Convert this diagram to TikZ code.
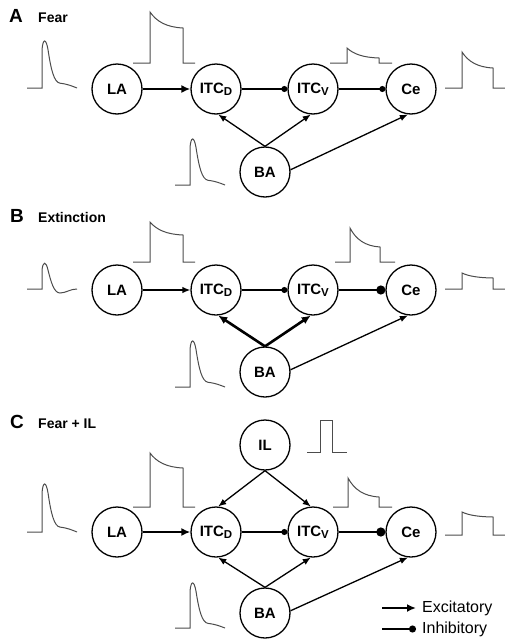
\documentclass[tikz,border=0pt]{standalone}
\usepackage{fontspec}
\setmainfont{Liberation Sans}
\usetikzlibrary{arrows.meta}
\newcommand\sbs[1]{\raisebox{-0.12em}{\fontsize{11.5}{11.5}\selectfont #1}}
\tikzset{
  nd/.style={circle,draw,line width=1.3pt,minimum size=50pt,inner sep=0pt,font=\bfseries\fontsize{15}{15}\selectfont},
  trace/.style={draw=black!70,line width=1pt,line join=miter},
  exc/.style={line width=1.3pt,-{Latex[length=8pt,width=6.5pt]}},
  excb/.style={line width=2.6pt,-{Latex[length=9pt,width=8pt]}},
  inh/.style={line width=1.3pt,-{Circle[length=6pt,width=6pt]}},
  inhb/.style={line width=2.8pt,-{Circle[length=9pt,width=9pt]}},
  lexcs/.style={line width=2pt,-{Latex[length=9pt,width=8pt]}},
  linhs/.style={line width=2pt,-{Circle[length=7pt,width=7pt]}},
  panel/.style={anchor=base west,inner sep=0pt,font=\bfseries\fontsize{19}{19}\selectfont},
  ptitle/.style={anchor=base west,inner sep=0pt,font=\bfseries\fontsize{14}{14}\selectfont},
  legend/.style={anchor=west,inner sep=0pt,font=\fontsize{16}{16}\selectfont}
}
% spike trace: x0, baseline, height
\newcommand\spiketrace[3]{%
  \begin{scope}[shift={(#1,#2)},yscale=#3]
  \draw[trace] (0,0) -- (15,0) -- (15,-0.8) .. controls (16,-1.04) and (19,-1.04) .. (21,-0.8)
    .. controls (24,-0.38) and (27,-0.12) .. (33,-0.1) .. controls (41,-0.08) and (45,-0.04) .. (50,0);
  \end{scope}}
% step trace: x0, xs, xe, x1, baseline, top, level
\newcommand\steptrace[7]{%
  \draw[trace] (#1,#5) -- (#2,#5) -- (#2,#6)
    .. controls +({0.2*(#3-#2)},{0.6*(#7-#6)}) and +({-0.5*(#3-#2)},{-0.05*(#7-#6)}) .. (#3,#7)
    -- (#3,#5) -- (#4,#5);}
\begin{document}
\begin{tikzpicture}[x=1pt,y=-1pt]
\useasboundingbox (0,0) rectangle (504,643);

% ---------------- Panel A ----------------
\node[panel] (labA) at (9,22) {A};
\node[ptitle] (titA) at (38,22) {Fear};
\node[nd] (LAa) at (117,89) {LA};
\node[nd] (ITCDa) at (216,89) {ITC\sbs{D}};
\node[nd] (ITCVa) at (313,89) {ITC\sbs{V}};
\node[nd] (Cea) at (411,89) {Ce};
\node[nd] (BAa) at (265,172) {BA};
\draw[excb] (LAa) -- (ITCDa);
\draw[inh] (ITCDa) -- (ITCVa);
\draw[inh] (ITCVa) -- (Cea);
\draw[exc] (BAa.north) -- (ITCDa.-85);
\draw[exc] (BAa.north) -- (ITCVa.-95);
\draw[exc] (BAa.5) -- (Cea.-97);
\spiketrace{27}{88}{48}
\spiketrace{175}{185}{47}
\steptrace{133}{150}{183}{195}{63}{12}{28}
\steptrace{330}{347}{379}{392}{63}{48}{58}
\steptrace{445}{462}{493}{510}{88}{52}{68}

% ---------------- Panel B ----------------
\node[panel] (labB) at (10,222) {B};
\node[ptitle] (titB) at (38,222) {Extinction};
\node[nd] (LAb) at (117,290) {LA};
\node[nd] (ITCDb) at (216,290) {ITC\sbs{D}};
\node[nd] (ITCVb) at (313,290) {ITC\sbs{V}};
\node[nd] (Ceb) at (411,290) {Ce};
\node[nd] (BAb) at (265,372) {BA};
\draw[exc] (LAb) -- (ITCDb);
\draw[inh] (ITCDb) -- (ITCVb);
\draw[inhb] (ITCVb) -- (Ceb);
\draw[excb] (BAb.north) -- (ITCDb.-85);
\draw[excb] (BAb.north) -- (ITCVb.-95);
\draw[exc] (BAb.5) -- (Ceb.-97);
\draw[trace] (27,289) -- (42,289) -- (42,270) .. controls (43,261) and (46,261) .. (48,270)
  .. controls (51,282) and (54,293) .. (60,293) .. controls (66,293) and (70,289) .. (77,289);
\spiketrace{175}{387}{47}
\steptrace{133}{150}{183}{195}{262}{222}{235}
\steptrace{335}{350}{380}{395}{262}{228}{247}
\steptrace{445}{462}{493}{510}{289}{273}{278}

% ---------------- Panel C ----------------
\node[panel] (labC) at (10,428) {C};
\node[ptitle] (titC) at (38,428) {Fear + IL};
\node[nd] (IL) at (265,445) {IL};
\node[nd] (LAc) at (117,532) {LA};
\node[nd] (ITCDc) at (216,532) {ITC\sbs{D}};
\node[nd] (ITCVc) at (313,532) {ITC\sbs{V}};
\node[nd] (Cec) at (411,532) {Ce};
\node[nd] (BAc) at (265,613) {BA};
\draw[excb] (LAc) -- (ITCDc);
\draw[inh] (ITCDc) -- (ITCVc);
\draw[inhb] (ITCVc) -- (Cec);
\draw[exc] (IL.south) -- (ITCDc.85);
\draw[exc] (IL.south) -- (ITCVc.95);
\draw[exc] (BAc.north) -- (ITCDc.-85);
\draw[exc] (BAc.north) -- (ITCVc.-95);
\draw[exc] (BAc.5) -- (Cec.-97);
\draw[trace] (307,452) -- (320,452) -- (320,420) -- (332,420) -- (332,452) -- (347,452);
\spiketrace{27}{532}{49}
\spiketrace{175}{628}{46}
\steptrace{133}{150}{183}{195}{507}{453}{468}
\steptrace{333}{348}{379}{392}{507}{478}{497}
\steptrace{445}{462}{493}{510}{535}{512}{517}

% legend
\coordinate (e0) at (382,608);
\coordinate (e1) at (416,608);
\coordinate (i0) at (382,629);
\coordinate (i1) at (416,629);
\draw[lexcs] (e0) -- (e1);
\draw[linhs] (i0) -- (i1);
\node[legend] (lexc) at (422,608) {Excitatory};
\node[legend] (linh) at (422,629) {Inhibitory};
\end{tikzpicture}
\end{document}
